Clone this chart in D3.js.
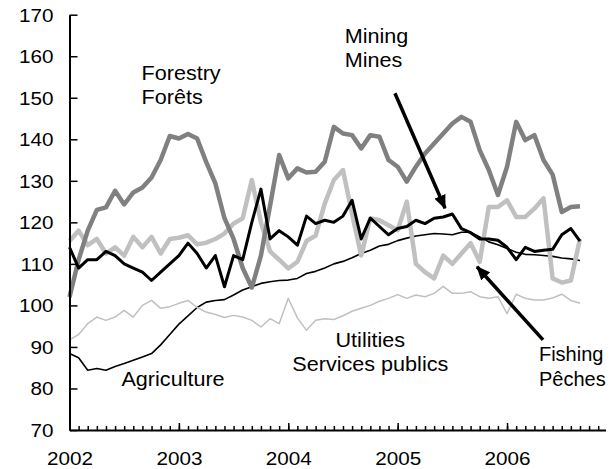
<!DOCTYPE html>
<html>
<head>
<meta charset="utf-8">
<title>Primary industries index</title>
<script src="https://cdn.jsdelivr.net/npm/d3@7"></script>
<style>
  body { margin: 0; background: #fff; }
  text { font-family: "Liberation Sans", Arial, sans-serif; fill: #000; }
</style>
</head>
<body>
<div id="chart"></div>
<script>

// monthly index, Jan 2002 .. Sep 2006
var years = [2002, 2003, 2004, 2005, 2006];
var y_ticks = [70, 80, 90, 100, 110, 120, 130, 140, 150, 160, 170];

var forestry = [102, 111, 118, 123, 123.6, 127.6, 124.3, 127.2, 128.4, 130.8, 135, 140.8,
  140.2, 141.3, 140.2, 134.5, 129.4, 121, 116, 109, 104.3, 112, 124, 136.2,
  130.6, 133, 132, 132.2, 134.6, 143, 141.4, 141, 137.8, 141, 140.6, 135,
  133.4, 129.8, 133.4, 136.6, 139, 141.4, 143.8, 145.4, 144.2, 137.4, 132.6, 126.6,
  133.4, 144.2, 139.8, 141, 135, 131.5, 122.5, 123.7, 123.9];

var mining = [114, 109, 111, 111, 113, 112, 110, 109, 108, 106, 108, 110,
  112, 115, 112.5, 109, 112, 104.5, 112, 111, 120, 128, 116, 118,
  116.5, 114.5, 121.5, 119.7, 120.5, 120, 121.5, 125.3, 116, 121, 119, 117,
  118.5, 119, 120.5, 119.7, 121, 121.3, 122, 118.5, 117.5, 116, 116, 115.7,
  114, 111, 114, 113, 113.3, 113.5, 117, 118.5, 115.5];

var agriculture = [88.4, 87.4, 84.4, 84.8, 84.4, 85.3, 86, 86.8, 87.6, 88.4, 90.5, 93,
  95.5, 97.5, 99.5, 100.8, 101.2, 101.4, 102.5, 103.7, 104.5, 105.3, 105.7, 106,
  106.1, 106.5, 107.7, 108.2, 109, 110, 110.6, 111.5, 112.5, 113.3, 114.3, 114.7,
  115.6, 116.2, 116.7, 117, 117.3, 117.2, 117, 117.6, 117.6, 116.5, 115.3, 114.6,
  113.7, 112.8, 112.3, 112.2, 112, 111.8, 111.4, 111.2, 110.8];

var utilities = [91.7, 93, 95.6, 97.2, 96.4, 97.2, 98.8, 97.2, 100, 101.2, 99.3, 99.7,
  100.5, 101.2, 99.5, 98.4, 97.8, 97.1, 97.6, 97.2, 96.4, 94.8, 96.8, 95.6,
  101.7, 97, 94, 96.4, 96.8, 96.6, 97.5, 98.6, 99.3, 100, 101, 101.7,
  102.6, 101.7, 102.5, 102.1, 102.9, 104.6, 102.9, 102.9, 103.3, 102.1, 101.7, 102.1,
  98, 102.7, 101.7, 101.3, 101.3, 101.8, 102.7, 101.2, 100.5];

var fishing = [115.5, 118, 114.5, 116, 112.5, 114, 112, 116.5, 114, 116.5, 112.5, 116,
  116.3, 116.9, 114.7, 115.1, 116, 117.3, 119.7, 121, 130.2, 120, 113, 111,
  108.9, 110.5, 115.5, 116.8, 124.5, 130.2, 132.6, 122, 112, 121, 120.5, 119.3,
  118.1, 125, 110, 108, 106.5, 112, 110, 112.5, 115, 110.5, 123.7, 123.7,
  125.3, 121.3, 121.3, 123.3, 125.8, 106.5, 105.5, 106, 116];

// drawing order and look of each series
var series = [
  { name: "Agriculture", values: agriculture, color: "#000000", width: 1.6 },
  { name: "Utilities", values: utilities, color: "#c0c0c0", width: 1.5 },
  { name: "Fishing", values: fishing, color: "#c0c0c0", width: 4.5 },
  { name: "Forestry", values: forestry, color: "#808080", width: 4.5 },
  { name: "Mining", values: mining, color: "#000000", width: 3 }
];

// labels placed in data units (month index, index value)
var labels = [
  { lines: ["Forestry", "Forêts"], m: 7.9, v: 154.3, anchor: "start", stretch: 1.08 },
  { lines: ["Mining", "Mines"], m: 30.2, v: 163.3, anchor: "start", stretch: 1.08 },
  { lines: ["Agriculture"], m: 5.7, v: 80.6, anchor: "start", stretch: 1.08 },
  { lines: ["Utilities", "Services publics"], m: 33, v: 90, anchor: "middle", stretch: 1.08 },
  { lines: ["Fishing", "Pêches"], m: 51.5, v: 86.5, anchor: "start", stretch: 1.0 }
];

var arrows = [
  { from: [35.7, 151.1], to: [41.2, 123.4] },
  { from: [51.95, 91.7], to: [44.7, 109.3] }
];

var svg_width = 612, svg_height = 469;
var tick_font = 18, tick_stretch = 1.15;
var label_font = 20;

var svg = d3.select("#chart")
  .append("svg")
  .attr("width", svg_width)
  .attr("height", svg_height);

var x = d3.scaleLinear().domain([0, 58.8]).range([69.5, 605.5]);
var y = d3.scaleLinear().domain([70, 170]).range([430, 14.7]);

var defs = svg.append("defs");
defs.append("marker")
  .attr("id", "head")
  .attr("markerUnits", "userSpaceOnUse")
  .attr("viewBox", "0 0 14 12")
  .attr("refX", 13)
  .attr("refY", 6)
  .attr("markerWidth", 14)
  .attr("markerHeight", 12)
  .attr("orient", "auto")
  .append("path")
  .attr("d", "M0,0L14,6L0,12Z")
  .attr("fill", "#000");

// series lines
var line = d3.line()
  .x((d, i) => x(i))
  .y(d => y(d));

svg.append("g")
  .selectAll("path")
  .data(series)
  .join("path")
    .attr("d", d => line(d.values))
    .attr("fill", "none")
    .attr("stroke", d => d.color)
    .attr("stroke-width", d => d.width)
    .attr("stroke-linejoin", "round");

// y axis, ticks pointing into the plot
var yAxis = svg.append("g")
  .attr("transform", `translate(${x(0)},0)`)
  .call(d3.axisLeft(y).tickValues(y_ticks).tickSizeInner(-8).tickSizeOuter(0).tickPadding(16));

yAxis.selectAll("text")
  .style("font-size", tick_font + "px")
  .attr("x", -16 / tick_stretch)
  .attr("dy", "0.36em")
  .attr("transform", `scale(${tick_stretch},1)`);

// x axis: month ticks and longer year ticks
var xAxis = svg.append("g")
  .attr("transform", `translate(0,${y(70)})`)
  .call(d3.axisBottom(x).tickValues(d3.range(0, 59)).tickSizeInner(-4).tickSizeOuter(0).tickFormat(""));

var yearAxis = svg.append("g")
  .attr("transform", `translate(0,${y(70)})`)
  .call(d3.axisBottom(x)
    .tickValues(years.map((yr, i) => i * 12))
    .tickSizeInner(-7).tickSizeOuter(0).tickPadding(22)
    .tickFormat((d, i) => years[i]));

yearAxis.select(".domain").remove();
yearAxis.selectAll("text")
  .style("font-size", tick_font + "px")
  .attr("transform", `scale(${tick_stretch},1)`);

svg.selectAll(".domain").attr("stroke-width", 2);
svg.selectAll(".tick line").attr("stroke-width", 1.5);

// annotations
var lab = svg.append("g")
  .selectAll("text")
  .data(labels)
  .join("text")
    .attr("transform", d => `translate(${x(d.m)},${y(d.v)}) scale(${d.stretch},1)`)
    .attr("text-anchor", d => d.anchor)
    .style("font-size", label_font + "px");

lab.selectAll("tspan")
  .data(d => d.lines)
  .join("tspan")
    .attr("x", 0)
    .attr("dy", (d, i) => i ? 24.5 : 0)
    .text(d => d);

svg.append("g")
  .selectAll("line")
  .data(arrows)
  .join("line")
    .attr("x1", d => x(d.from[0]))
    .attr("y1", d => y(d.from[1]))
    .attr("x2", d => x(d.to[0]))
    .attr("y2", d => y(d.to[1]))
    .attr("stroke", "#000")
    .attr("stroke-width", 3.5)
    .attr("marker-end", "url(#head)");

</script>
</body>
</html>
